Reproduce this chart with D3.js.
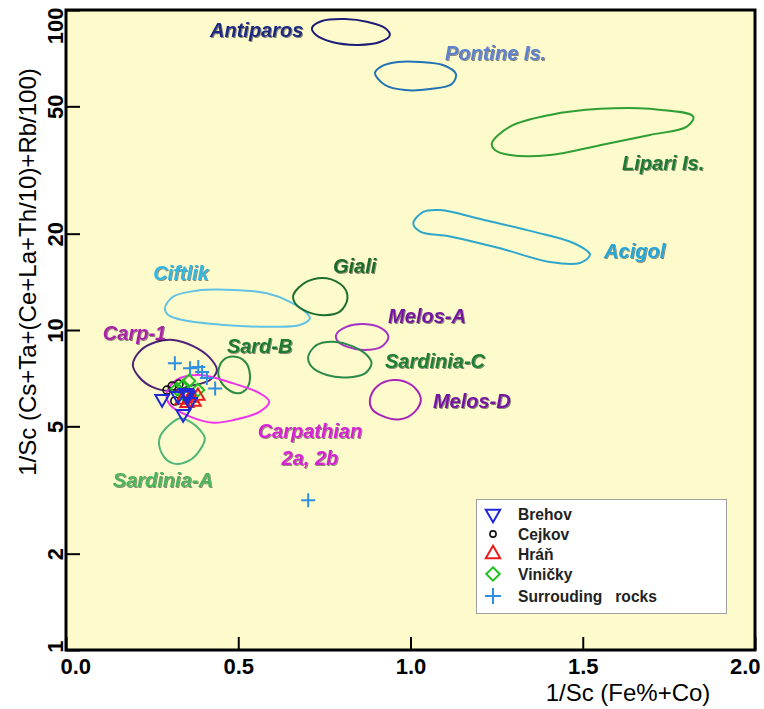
<!DOCTYPE html>
<html><head><meta charset="utf-8">
<script src="https://cdn.jsdelivr.net/npm/d3@7"></script>
<style>body{margin:0;background:#fff}svg{display:block}</style>
</head><body>
<svg id="c" width="764" height="709"></svg>
<script>
// ---------- axis ticks ----------
const xTickValues = [0, 0.5, 1.0, 1.5, 2.0];
const xTickLabels = ["0.0", "0.5", "1.0", "1.5", "2.0"];
const yTickValues = [1, 2, 5, 10, 20, 50, 100];
const yTickLabels = ["1", "2", "5", "10", "20", "50", "100"];
const xTitle = "1/Sc (Fe%+Co)";
const yTitle = "1/Sc (Cs+Ta+(Ce+La+Th/10)+Rb/100)";

// ---------- field outlines [x, y] ----------
const antiparos = [[0.714,87.9],[0.743,92.4],[0.810,93.7],[0.877,91.7],[0.926,87.9],[0.940,83.5],[0.911,79.4],[0.848,77.8],[0.772,79.4],[0.726,83.5]];
const pontine = [[0.897,63.6],[0.917,66.8],[0.964,68.8],[1.028,68.8],[1.094,67.3],[1.132,63.1],[1.120,58.7],[1.057,56.6],[0.984,56.2],[0.926,58.3]];
const lipari = [[1.236,38.3],[1.289,43.2],[1.405,47.0],[1.550,49.1],[1.695,49.1],[1.821,46.4],[1.802,43.2],[1.695,40.7],[1.550,37.8],[1.405,35.2],[1.289,35.2],[1.245,36.5]];
const acigol = [[1.008,21.5],[1.037,23.4],[1.086,23.7],[1.211,22.1],[1.356,20.3],[1.473,18.7],[1.521,17.2],[1.492,16.2],[1.405,16.3],[1.260,18.0],[1.115,19.6],[1.028,20.3]];
const ciftlik = [[0.287,11.69],[0.311,12.71],[0.379,13.27],[0.486,13.34],[0.583,13.02],[0.650,12.25],[0.699,11.28],[0.708,10.88],[0.679,10.37],[0.602,10.24],[0.457,10.37],[0.340,10.74],[0.297,11.14]];
const giali = [[0.660,12.86],[0.699,14.16],[0.757,14.51],[0.805,13.66],[0.817,12.56],[0.795,11.41],[0.737,11.14],[0.689,11.55],[0.665,12.12]];
const melosA = [[0.784,9.65],[0.815,10.24],[0.863,10.44],[0.916,10.12],[0.936,9.53],[0.916,8.87],[0.863,8.66],[0.815,8.87],[0.790,9.19]];
const sardiniaC = [[0.703,8.26],[0.728,8.98],[0.776,9.19],[0.834,8.87],[0.873,8.35],[0.887,7.87],[0.868,7.32],[0.815,7.11],[0.757,7.23],[0.713,7.68]];
const melosD = [[0.882,6.04],[0.902,6.65],[0.950,6.98],[1.003,6.73],[1.030,6.12],[1.013,5.56],[0.970,5.26],[0.911,5.43],[0.887,5.69]];
const sardB = [[0.442,7.41],[0.457,8.06],[0.486,8.26],[0.520,7.96],[0.534,7.23],[0.525,6.57],[0.500,6.34],[0.466,6.57],[0.447,6.98]];
const carp1 = [[0.194,7.78],[0.218,8.66],[0.261,9.17],[0.311,9.31],[0.369,8.91],[0.415,8.24],[0.438,7.50],[0.418,6.98],[0.360,6.68],[0.302,6.45],[0.250,6.64],[0.212,7.13]];
const carpathian = [[0.292,6.34],[0.321,6.98],[0.389,7.23],[0.486,6.81],[0.563,6.34],[0.590,5.97],[0.563,5.56],[0.486,5.23],[0.428,5.13],[0.360,5.36],[0.302,5.83]];
const sardiniaA = [[0.331,5.30],[0.360,5.17],[0.389,4.87],[0.403,4.59],[0.389,4.22],[0.360,3.92],[0.311,3.83],[0.278,4.12],[0.273,4.64]];

// ---------- samples [x, y] ----------
const surrounding = [[0.316,7.87],[0.360,7.59],[0.384,7.66],[0.395,7.39],[0.409,7.08],[0.433,6.57],[0.703,2.94]];
const cejkov = [[0.293,6.49],[0.316,6.00],[0.328,6.78],[0.308,6.68]];
const vinicky = [[0.322,6.54],[0.357,6.93],[0.383,6.49],[0.343,6.26],[0.340,6.68]];
const hran = [[0.337,6.04],[0.360,6.13],[0.383,6.22],[0.372,5.96],[0.351,5.91]];
const brehov = [[0.279,6.09],[0.340,5.47],[0.360,5.96],[0.325,6.22],[0.348,6.36],[0.351,6.30],[0.354,6.25]];

// ---------- field labels [text, x, y] ----------
const fieldLabels = [
  ["Antiparos", 0.418, 82.4], ["Pontine Is.", 1.100, 69.8], ["Lipari Is.", 1.614, 31.6],
  ["Acigol", 1.562, 16.8], ["Ciftlik", 0.253, 14.3], ["Giali", 0.775, 15.1],
  ["Melos-A", 0.935, 10.5], ["Sardinia-C", 0.926, 7.61], ["Melos-D", 1.065, 5.71],
  ["Sard-B", 0.467, 8.47], ["Carp-1", 0.107, 9.31], ["Sardinia-A", 0.136, 3.23]
];
const carpathianLabel = [["Carpathian", 0.708, 4.60], ["2a, 2b", 0.708, 3.79]];

const legendNames = ["Brehov", "Cejkov", "Hráň", "Viničky", "Surrouding   rocks"];

// ---------- styling ----------
const fields = [
  {pts: antiparos, stroke: "#1c1c78"},
  {pts: pontine, stroke: "#2272b4"},
  {pts: lipari, stroke: "#2f9e35"},
  {pts: acigol, stroke: "#2ea6cc"},
  {pts: ciftlik, stroke: "#62c2e6"},
  {pts: giali, stroke: "#1e6e30"},
  {pts: melosA, stroke: "#a633c4"},
  {pts: sardiniaC, stroke: "#2b8a4a"},
  {pts: melosD, stroke: "#a825b8"},
  {pts: sardB, stroke: "#2c8a42"},
  {pts: carp1, stroke: "#4e2274"},
  {pts: carpathian, stroke: "#ee33ee"},
  {pts: sardiniaA, stroke: "#52b67a"}
];
const labelColors = {"Antiparos":"#1f2a82","Pontine Is.":"#5f80cf","Lipari Is.":"#1d7a35","Acigol":"#26a6d6",
  "Ciftlik":"#33b6e2","Giali":"#1d6a2e","Melos-A":"#7418a0","Sardinia-C":"#1d7f34","Melos-D":"#7418a0",
  "Sard-B":"#1d7a35","Carp-1":"#a824a8","Sardinia-A":"#4cb45a"};

const svg = d3.select("#c");
const P = {l: 66, r: 755, t: 10, b: 650};
const x = d3.scaleLinear().domain([0, 2]).range([P.l, P.r]);
const y = d3.scaleLog().domain([1, 100]).range([P.b, P.t]);
const FONT = "'Liberation Sans', Arial, Helvetica, sans-serif";

const defs = svg.append("defs");
const f = defs.append("filter").attr("id", "sh").attr("x", "-5%").attr("y", "-20%").attr("width", "115%").attr("height", "150%");
f.append("feDropShadow").attr("dx", 1).attr("dy", 1).attr("stdDeviation", 0.5)
  .attr("flood-color", "#000").attr("flood-opacity", 0.45);

// background
svg.append("rect").attr("x", P.l).attr("y", P.t).attr("width", P.r - P.l).attr("height", P.b - P.t)
  .attr("fill", "#fdfacb");

// fields
const line = d3.line().x(d => x(d[0])).y(d => y(d[1])).curve(d3.curveCatmullRomClosed.alpha(0.5));
svg.append("g").selectAll("path").data(fields).join("path")
  .attr("d", d => line(d.pts)).attr("fill", "none").attr("stroke", d => d.stroke).attr("stroke-width", 2);

// field labels
const lg = svg.append("g").attr("font-family", FONT).attr("font-weight", "bold").attr("font-style", "italic")
  .attr("font-size", 20).attr("filter", "url(#sh)");
lg.selectAll("text.f").data(fieldLabels).join("text").attr("class", "f")
  .attr("x", d => x(d[1])).attr("y", d => y(d[2])).attr("fill", d => labelColors[d[0]]).text(d => d[0]);
lg.selectAll("text.c").data(carpathianLabel).join("text").attr("class", "c")
  .attr("x", d => x(d[1])).attr("y", d => y(d[2])).attr("text-anchor", "middle").attr("fill", "#d424d4").text(d => d[0]);

// symbols
const tri = {draw(ctx, size) { const s = Math.sqrt(size * 4 / Math.sqrt(3)); const h = s * Math.sqrt(3) / 2;
  ctx.moveTo(0, -h * 2 / 3); ctx.lineTo(s / 2, h / 3); ctx.lineTo(-s / 2, h / 3); ctx.closePath(); }};
const triDown = {draw(ctx, size) { const s = Math.sqrt(size * 4 / Math.sqrt(3)); const h = s * Math.sqrt(3) / 2;
  ctx.moveTo(0, h * 2 / 3); ctx.lineTo(s / 2, -h / 3); ctx.lineTo(-s / 2, -h / 3); ctx.closePath(); }};
const diam = {draw(ctx, size) { const r = Math.sqrt(size / 2);
  ctx.moveTo(0, -r); ctx.lineTo(r, 0); ctx.lineTo(0, r); ctx.lineTo(-r, 0); ctx.closePath(); }};
const plus = {draw(ctx, size) { const r = Math.sqrt(size) / 2;
  ctx.moveTo(-r, 0); ctx.lineTo(r, 0); ctx.moveTo(0, -r); ctx.lineTo(0, r); }};
const circ = {draw(ctx, size) { const r = Math.sqrt(size / Math.PI); ctx.moveTo(r, 0); ctx.arc(0, 0, r, 0, 2 * Math.PI); }};

const series = [
  {data: surrounding, type: plus, size: 196, color: "#2f8fe0", w: 2},
  {data: cejkov, type: circ, size: 50, color: "#111", w: 1.6},
  {data: vinicky, type: diam, size: 80, color: "#1fc01f", w: 2},
  {data: hran, type: tri, size: 75, color: "#e81c1c", w: 2},
  {data: brehov, type: triDown, size: 80, color: "#1f2ad6", w: 2}
];
const sg = svg.append("g");
series.forEach(s => {
  sg.append("g").selectAll("path").data(s.data).join("path")
    .attr("transform", d => `translate(${x(d[0])},${y(d[1])})`)
    .attr("d", d3.symbol().type(s.type).size(s.size)())
    .attr("fill", "none").attr("stroke", s.color).attr("stroke-width", s.w);
});

// axes
const xAxis = d3.axisBottom(x).tickValues(xTickValues).tickSizeInner(-13).tickSizeOuter(0)
  .tickFormat((d, i) => xTickLabels[i]);
const gx = svg.append("g").attr("transform", `translate(0,${P.b})`).call(xAxis);
gx.select(".domain").remove();
gx.selectAll("line").attr("stroke", "#000").attr("stroke-width", 2);
gx.selectAll("text").attr("y", 24).attr("dy", null).attr("font-family", FONT).attr("font-weight", "bold")
  .attr("font-size", 22).attr("fill", "#000")
  .attr("text-anchor", (d, i) => i === 0 ? "start" : i === xTickValues.length - 1 ? "end" : "middle")
  .attr("dx", (d, i) => i === 0 ? -6 : i === xTickValues.length - 1 ? 5 : 0);

const yAxis = d3.axisLeft(y).tickValues(yTickValues).tickSizeInner(-14).tickSizeOuter(0)
  .tickFormat((d, i) => yTickLabels[i]);
const gy = svg.append("g").attr("transform", `translate(${P.l},0)`).call(yAxis);
gy.select(".domain").remove();
gy.selectAll("line").attr("stroke", "#000").attr("stroke-width", 2);
gy.selectAll("text").attr("x", null).attr("dy", null).attr("font-family", FONT).attr("font-weight", "bold")
  .attr("font-size", 22).attr("fill", "#000")
  .attr("text-anchor", (d, i) => i === yTickValues.length - 1 ? "end" : "middle")
  .attr("transform", (d, i) => i === yTickValues.length - 1 ? "translate(-3,-3) rotate(-90)" : i === 0 ? "translate(-3,-4) rotate(-90)" : "translate(-3,0) rotate(-90)");

// frame
svg.append("rect").attr("x", P.l).attr("y", P.t).attr("width", P.r - P.l).attr("height", P.b - P.t)
  .attr("fill", "none").attr("stroke", "#000").attr("stroke-width", 3);

// titles
svg.append("text").attr("x", 628).attr("y", 701).attr("text-anchor", "middle").attr("font-family", FONT)
  .attr("font-size", 24).attr("fill", "#000").text(xTitle);
svg.append("text").attr("transform", "translate(36,272) rotate(-90)").attr("text-anchor", "middle")
  .attr("font-family", FONT).attr("font-size", 24).attr("fill", "#000").text(yTitle);

// legend
const L = svg.append("g");
L.append("rect").attr("x", 476.5).attr("y", 499.5).attr("width", 250).attr("height", 114)
  .attr("fill", "#fff").attr("stroke", "#a0a0a0").attr("stroke-width", 1);
const legendRows = [514, 534, 554, 574, 596];
const legendSyms = [
  {type: triDown, size: 90, color: "#1f2ad6", w: 2},
  {type: circ, size: 30, color: "#111", w: 1.6},
  {type: tri, size: 90, color: "#e81c1c", w: 2},
  {type: diam, size: 90, color: "#1fc01f", w: 2},
  {type: plus, size: 256, color: "#2f8fe0", w: 2}
];
legendNames.forEach((n, i) => {
  const s = legendSyms[i];
  L.append("path").attr("transform", `translate(493,${legendRows[i]})`)
    .attr("d", d3.symbol().type(s.type).size(s.size)()).attr("fill", "none")
    .attr("stroke", s.color).attr("stroke-width", s.w);
  L.append("text").attr("transform", `translate(518,${legendRows[i] + 6}) scale(0.92,1)`)
    .attr("font-family", FONT).attr("font-weight", "bold").attr("font-size", 17).attr("fill", "#222")
    .style("white-space", "pre").text(n);
});
</script>
</body></html>
